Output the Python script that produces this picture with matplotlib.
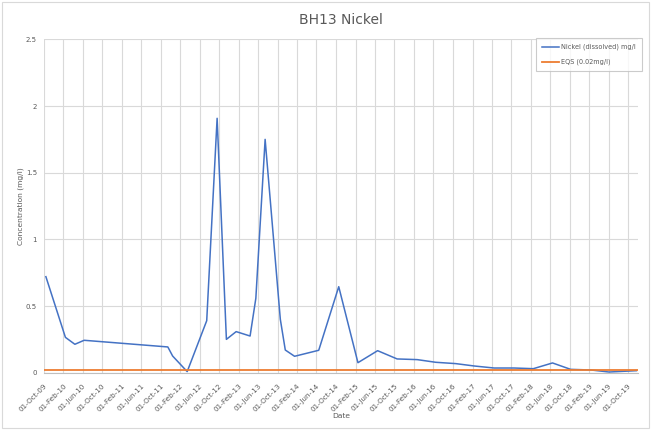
import numpy as np
import matplotlib
matplotlib.use("Agg")
import matplotlib.pyplot as plt
import matplotlib.dates as mdates
from matplotlib.patches import Rectangle
from datetime import date

# sample dates and dissolved nickel (mg/l)
sample_dates = ['2009-10-14', '2010-02-13', '2010-04-13', '2010-06-10', '2011-11-15',
                '2011-12-15', '2012-03-15', '2012-07-15', '2012-09-18', '2012-11-15',
                '2013-01-15', '2013-04-12', '2013-05-18', '2013-07-15', '2013-10-18',
                '2013-11-18', '2014-01-15', '2014-06-15', '2014-10-18', '2015-02-15',
                '2015-06-18', '2015-10-18', '2016-02-20', '2016-06-15', '2016-10-18',
                '2017-02-12', '2017-06-15', '2017-10-18', '2018-02-15', '2018-06-15',
                '2018-10-06', '2019-02-12', '2019-06-03', '2019-11-21']
nickel = [0.72, 0.265, 0.213, 0.243, 0.193,
          0.125, 0.008, 0.39, 1.908, 0.25,
          0.308, 0.275, 0.558, 1.75, 0.40,
          0.17, 0.123, 0.168, 0.645, 0.075,
          0.165, 0.103, 0.098, 0.078, 0.068,
          0.05, 0.035, 0.035, 0.03, 0.073,
          0.025, 0.02, 0.005, 0.015]
eqs = 0.02

x = np.array(sample_dates, dtype='datetime64[D]').astype(object)

fig = plt.figure(figsize=(6.51, 4.3), dpi=100)
fig.patches.append(Rectangle((0.003, 0.005), 0.994, 0.99, transform=fig.transFigure,
                             fill=False, edgecolor='#d9d9d9', linewidth=0.8))
ax = fig.add_axes([0.0673, 0.1333, 0.9127, 0.7751])

ax.plot(x, nickel, color='#4472C4', linewidth=1.1, label='Nickel (dissolved) mg/l')
xlim = (date(2009, 10, 1), date(2019, 12, 1))
ax.plot(list(xlim), [eqs, eqs], color='#ED7D31', linewidth=1.3, label='EQS (0.02mg/l)')

ax.set_xlim(xlim)
ax.set_ylim(0, 2.5)
ax.set_yticks([0, 0.5, 1, 1.5, 2, 2.5])
ax.set_yticklabels(['0', '0.5', '1', '1.5', '2', '2.5'])

ticks = [date(2009 + (9 + 4 * i) // 12, (9 + 4 * i) % 12 + 1, 1) for i in range(31)]
ax.set_xticks(ticks)
ax.xaxis.set_major_formatter(mdates.DateFormatter('%d-%b-%y'))
plt.setp(ax.get_xticklabels(), rotation=45, ha='right', rotation_mode='anchor')

ax.grid(color='#d9d9d9', linewidth=0.8)
ax.set_axisbelow(True)
for s in ['top', 'right', 'left']:
    ax.spines[s].set_visible(False)
ax.spines['bottom'].set_color('#bfbfbf')
ax.tick_params(axis='x', length=0, labelsize=5.2, colors='#595959', pad=7)
ax.tick_params(axis='y', length=0, labelsize=5, colors='#595959', pad=5)

ax.set_title('BH13 Nickel', fontsize=10, color='#595959', pad=11)
ax.set_ylabel('Concentration (mg/l)', fontsize=5.4, color='#595959')
ax.yaxis.set_label_coords(-0.033, 0.5)
ax.set_xlabel('Date', fontsize=5.4, color='#595959')
ax.xaxis.set_label_coords(0.5, -0.122)

leg = ax.legend(loc='upper right', bbox_to_anchor=(0.991, 0.919), bbox_transform=fig.transFigure,
                fontsize=4.7, frameon=True, fancybox=False, edgecolor='#bfbfbf',
                handlelength=2.6, borderpad=0.9, labelspacing=1.3, handletextpad=0.4)
leg.get_frame().set_linewidth(0.8)
for t in leg.get_texts():
    t.set_color('#595959')

plt.savefig('out.png', dpi=100)
